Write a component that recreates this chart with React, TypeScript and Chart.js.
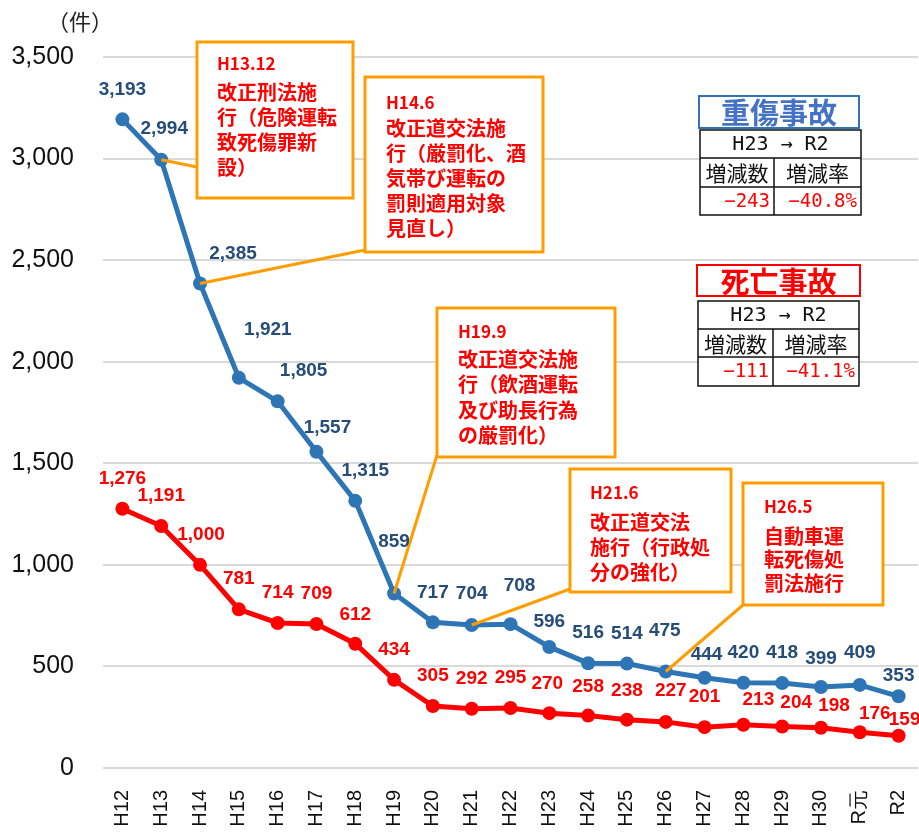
import React, { useEffect, useRef } from "react";
import { Chart, registerables } from "chart.js";

Chart.register(...registerables);

const categories = ["H12", "H13", "H14", "H15", "H16", "H17", "H18", "H19", "H20", "H21", "H22", "H23", "H24", "H25", "H26", "H27", "H28", "H29", "H30", "R元", "R2"];
const seriousInjuries = [3193, 2994, 2385, 1921, 1805, 1557, 1315, 859, 717, 704, 708, 596, 516, 514, 475, 444, 420, 418, 399, 409, 353];
const fatalities = [1276, 1191, 1000, 781, 714, 709, 612, 434, 305, 292, 295, 270, 258, 238, 227, 201, 213, 204, 198, 176, 159];
const yMin = 0;
const yMax = 3500;
const yStep = 500;
const yUnit = "（件）";

// label offsets (styling only)
const blueLabelOffsets = [[0, -30], [3, -31], [33, -30], [29, -48], [26, -31], [11, -24], [10, -30], [0, -52], [0, -30], [0, -31], [9, -38], [0, -25], [0, -30], [0, -30], [-1, -41], [2, -23], [0, -30], [0, -30], [0, -28], [0, -32], [0, -21]];
const redLabelOffsets = [[0, -30], [0, -30], [1, -30], [0, -31], [0, -30], [0, -30], [0, -29], [0, -30], [0, -30], [0, -30], [0, -30], [-2, -29], [0, -29], [0, -29], [5, -31], [0, -30], [15, -25], [14, -24], [13, -22], [15, -18], [6, -16]];

const annotations = [
  { idx: 1, box: [197, 42, 353, 198], end: [197, 167], head: "H13.12", lines: ["改正刑法施", "行（危険運転", "致死傷罪新", "設）"], tx: 217, hy: 64, ly: 92, lh: 25.3 },
  { idx: 2, box: [365, 77, 543, 252], end: [365, 250], head: "H14.6", lines: ["改正道交法施", "行（厳罰化、酒", "気帯び運転の", "罰則適用対象", "見直し）"], tx: 386, hy: 103, ly: 128.5, lh: 25 },
  { idx: 7, box: [437, 308, 615, 457], end: [437, 455], head: "H19.9", lines: ["改正道交法施", "行（飲酒運転", "及び助長行為", "の厳罰化）"], tx: 458, hy: 332, ly: 359, lh: 25.5 },
  { idx: 9, box: [570, 469, 731, 592], end: [570, 589], head: "H21.6", lines: ["改正道交法", "施行（行政処", "分の強化）"], tx: 590, hy: 493, ly: 522, lh: 25 },
  { idx: 14, box: [743, 483, 883, 605], end: [743, 605], head: "H26.5", lines: ["自動車運", "転死傷処", "罰法施行"], tx: 764, hy: 507, ly: 536, lh: 23.5 },
];

const tables = [
  { title: "重傷事故", titleColor: "#4472c4", titleBorder: "#2e75b6", titleBox: [699, 96, 859, 128], x0: 700, x1: 861, xm: 774, rows: [130, 158, 187, 215], period: "H23 → R2", diff: "−243", rate: "−40.8%" },
  { title: "死亡事故", titleColor: "#ff0000", titleBorder: "#ff0000", titleBox: [697, 265, 860, 296], x0: 698, x1: 859, xm: 773, rows: [301, 329, 357, 386], period: "H23 → R2", diff: "−111", rate: "−41.1%" },
];

const BLUE = "#2e75b6";
const BLUE_TEXT = "#264d7a";
const RED = "#ff0000";
const ORANGE = "#ff9d00";

const overlayPlugin = {
  id: "overlay",
  afterDatasetsDraw(chart: any) {
    const ctx = chart.ctx;
    const xs = chart.scales.x;
    const ys = chart.scales.y;
    ctx.save();
    // y unit
    ctx.fillStyle = "#222";
    ctx.font = "22px 'Noto Sans CJK JP'";
    ctx.textAlign = "center";
    ctx.textBaseline = "middle";
    ctx.fillText(yUnit, 80, 22);

    // annotations
    for (const a of annotations) {
      const px = xs.getPixelForValue(a.idx);
      const py = ys.getPixelForValue(seriousInjuries[a.idx]);
      ctx.strokeStyle = ORANGE;
      ctx.lineWidth = 3;
      ctx.beginPath();
      ctx.moveTo(px, py);
      ctx.lineTo(a.end[0], a.end[1]);
      ctx.stroke();
      const [x0, y0, x1, y1] = a.box;
      ctx.fillStyle = "#ffffff";
      ctx.fillRect(x0, y0, x1 - x0, y1 - y0);
      ctx.strokeRect(x0, y0, x1 - x0, y1 - y0);
      ctx.fillStyle = RED;
      ctx.textAlign = "left";
      ctx.textBaseline = "middle";
      ctx.font = "bold 17px 'Noto Sans CJK JP'";
      ctx.fillText(a.head, a.tx, a.hy);
      ctx.font = "bold 20px 'Noto Sans CJK JP'";
      a.lines.forEach((t, i) => ctx.fillText(t, a.tx, a.ly + i * a.lh));
    }

    // data labels
    ctx.font = "bold 19px 'Liberation Sans'";
    ctx.textAlign = "center";
    ctx.textBaseline = "middle";
    seriousInjuries.forEach((v, i) => {
      const x = xs.getPixelForValue(i) + blueLabelOffsets[i][0];
      const y = ys.getPixelForValue(v) + blueLabelOffsets[i][1];
      ctx.fillStyle = BLUE_TEXT;
      ctx.fillText(v.toLocaleString("en-US"), x, y);
    });
    fatalities.forEach((v, i) => {
      const x = xs.getPixelForValue(i) + redLabelOffsets[i][0];
      const y = ys.getPixelForValue(v) + redLabelOffsets[i][1];
      ctx.fillStyle = RED;
      ctx.fillText(v.toLocaleString("en-US"), x, y);
    });

    // tables
    for (const t of tables) {
      const [bx0, by0, bx1, by1] = t.titleBox;
      ctx.fillStyle = "#fff";
      ctx.fillRect(bx0, by0, bx1 - bx0, by1 - by0);
      ctx.strokeStyle = t.titleBorder;
      ctx.lineWidth = 2;
      ctx.strokeRect(bx0, by0, bx1 - bx0, by1 - by0);
      ctx.fillStyle = t.titleColor;
      ctx.font = "bold 29px 'Noto Sans CJK JP'";
      ctx.textAlign = "center";
      ctx.fillText(t.title, (bx0 + bx1) / 2, (by0 + by1) / 2 + 1);

      const [r0, r1, r2, r3] = t.rows;
      ctx.fillStyle = "#fff";
      ctx.fillRect(t.x0, r0, t.x1 - t.x0, r3 - r0);
      ctx.strokeStyle = "#111";
      ctx.lineWidth = 1.5;
      ctx.strokeRect(t.x0, r0, t.x1 - t.x0, r3 - r0);
      ctx.beginPath();
      ctx.moveTo(t.x0, r1); ctx.lineTo(t.x1, r1);
      ctx.moveTo(t.x0, r2); ctx.lineTo(t.x1, r2);
      ctx.moveTo(t.xm, r1); ctx.lineTo(t.xm, r3);
      ctx.stroke();

      ctx.fillStyle = "#111";
      ctx.font = "20px 'DejaVu Sans Mono', 'Noto Sans CJK JP'";
      ctx.textAlign = "center";
      ctx.fillText(t.period, (t.x0 + t.x1) / 2, (r0 + r1) / 2 + 1);
      ctx.font = "21px 'Noto Sans CJK JP'";
      ctx.fillText("増減数", (t.x0 + t.xm) / 2, (r1 + r2) / 2 + 1);
      ctx.fillText("増減率", (t.xm + t.x1) / 2, (r1 + r2) / 2 + 1);
      ctx.fillStyle = RED;
      ctx.font = "19px 'DejaVu Sans Mono'";
      ctx.textAlign = "right";
      ctx.fillText(t.diff, t.xm - 4, (r2 + r3) / 2 + 1);
      ctx.fillText(t.rate, t.x1 - 4, (r2 + r3) / 2 + 1);
    }
    ctx.restore();
  },
};

export default function App() {
  const canvasRef = useRef<HTMLCanvasElement | null>(null);
  useEffect(() => {
    const canvas = canvasRef.current;
    if (!canvas) return;
    const chart = new Chart(canvas, {
      type: "line",
      data: {
        labels: categories,
        datasets: [
          {
            label: "死亡事故",
            data: fatalities,
            borderColor: RED,
            backgroundColor: RED,
            borderWidth: 5,
            pointRadius: 7,
            pointBorderWidth: 0,
            pointBackgroundColor: RED,
            tension: 0,
          },
          {
            label: "重傷事故",
            data: seriousInjuries,
            borderColor: BLUE,
            backgroundColor: BLUE,
            borderWidth: 5,
            pointRadius: 7,
            pointBorderWidth: 0,
            pointBackgroundColor: BLUE,
            tension: 0,
          },
        ],
      },
      options: {
        responsive: false,
        animation: false,
        layout: { padding: { left: 0, right: 0, top: 57, bottom: 0 } },
        plugins: { legend: { display: false }, tooltip: { enabled: false } },
        scales: {
          x: {
            offset: true,
            grid: { display: false },
            border: { display: false },
            ticks: {
              minRotation: 90,
              maxRotation: 90,
              padding: 14,
              color: "#111",
              font: { family: "'Liberation Sans'", size: 20 },
              autoSkip: false,
            },
            afterFit: (s: any) => { s.height = 66; s.paddingLeft = 0; s.paddingRight = 0; },
          },
          y: {
            min: yMin,
            max: yMax,
            grid: { color: "#d9d9d9", lineWidth: 2, drawTicks: false },
            border: { display: false },
            ticks: {
              stepSize: yStep,
              padding: 29,
              color: "#111",
              font: { family: "'Liberation Sans'", size: 25 },
              callback: (v: any) => Number(v).toLocaleString("en-US"),
            },
            afterFit: (s: any) => { s.width = 103; },
          },
        },
      },
      plugins: [overlayPlugin],
    });
    return () => chart.destroy();
  }, []);
  return (
    <div style={{ position: "fixed", left: 0, top: 0, width: 919, height: 834, overflow: "hidden", background: "#fff" }}>
      <canvas ref={canvasRef} width={925} height={834} style={{ display: "block" }} />
    </div>
  );
}
